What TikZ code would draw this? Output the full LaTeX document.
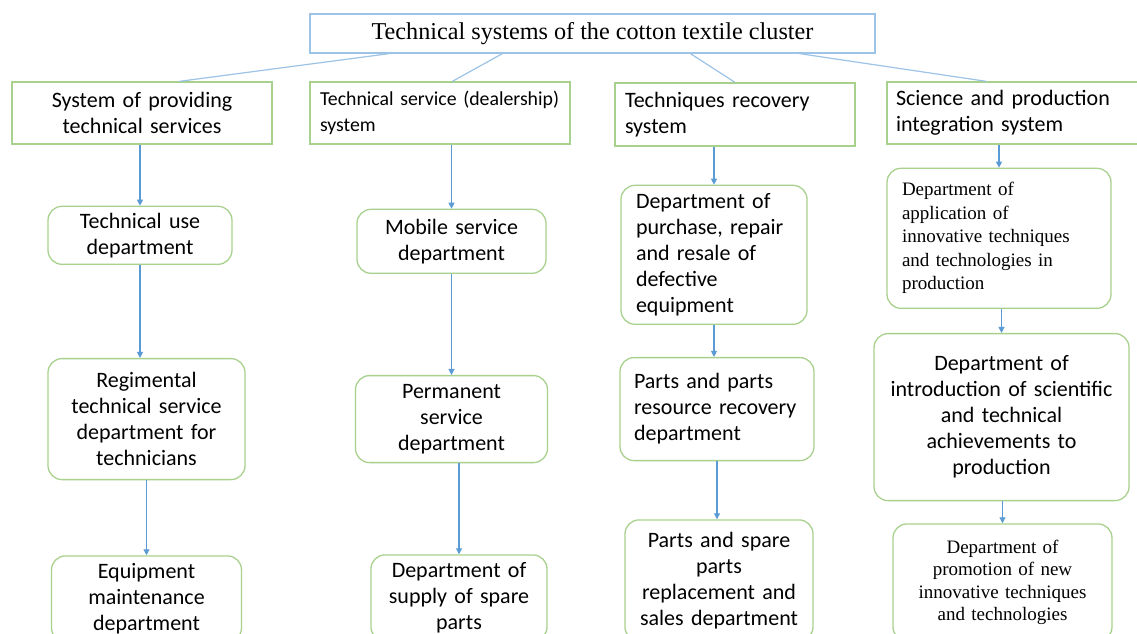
\documentclass[tikz,border=0pt]{standalone}
\usepackage{fontspec}
\setmainfont{Carlito}
\newfontfamily\timesfont{Liberation Serif}
\usepackage{xcolor}
\usetikzlibrary{arrows.meta}
\usetikzlibrary{positioning}

\definecolor{boxgreen}{HTML}{A9D18E}
\definecolor{linkblue}{HTML}{9DC3E6}
\definecolor{feedblue}{HTML}{5B9BD5}

\tikzset{
	system/.style={draw=boxgreen, line width=1.3pt, inner xsep=10pt, inner ysep=0pt,
		font=\fontsize{22}{26}\selectfont},
	department/.style={system, rounded corners=14pt},
	serifbox/.style={font=\timesfont\fontsize{19}{23.5}\selectfont},
	link/.style={draw=linkblue, line width=1.2pt},
	feed/.style={draw=feedblue, line width=1.1pt, -{Triangle[length=6pt,width=6pt]}}
}

\begin{document}
\begin{tikzpicture}[x=1pt, y=-1pt]
	\useasboundingbox (0,0) rectangle (1137,633);
	\fill[white] (0,0) rectangle (1137,633);
	\clip (0,0) rectangle (1137,633);

	\node[draw=linkblue, line width=1.2pt, minimum width=565pt, minimum height=39pt,
		font=\timesfont\fontsize{24.2}{28}\selectfont] (title) at (592.5,33.5)
		{Technical systems of the cotton textile cluster};

	\node[system, minimum width=260pt, minimum height=62pt, text width=240pt, align=center]
		(provSys) at (142,113) {System of providing\\technical services};
	\node[system, minimum width=260pt, minimum height=62pt, text width=240pt, align=left,
		font=\fontsize{19.8}{26}\selectfont]
		(dealSys) [right=36.7pt of provSys] {\mbox{Technical service (dealership)}\\system};
	\node[system, minimum width=240pt, minimum height=63pt, text width=220pt, align=left]
		(recovSys) [right=43.7pt of dealSys, yshift=-1.5pt] {Techniques recovery\\system};
	\node[system, minimum width=263pt, minimum height=62pt, text width=245pt, inner xsep=9pt, align=left]
		(sciSys) [right=30.7pt of recovSys, yshift=1.5pt] {Science and production\\integration system};

	\draw[link] ([xshift=80pt]title.south west) -- ([xshift=168pt]provSys.north west);
	\draw[link] ([xshift=193pt]title.south west) -- ([xshift=143pt]dealSys.north west);
	\draw[link] ([xshift=381pt]title.south west) -- (recovSys.north);
	\draw[link] ([xshift=490pt]title.south west) -- ([xshift=100pt]sciSys.north west);

	% first column
	\node[department, minimum width=184pt, minimum height=58pt, text width=164pt, align=center]
		(useDept) [below=61pt of provSys, xshift=-2pt] {Technical use\\department};
	\node[department, minimum width=197pt, minimum height=121pt, text width=177pt, align=center]
		(regDept) [below=93pt of useDept, xshift=6.5pt] {Regimental\\technical service\\department for\\technicians};
	\node[department, minimum width=190pt, minimum height=86pt, text width=170pt, align=center]
		(maintDept) [below=75pt of regDept] {Equipment\\maintenance\\department};
	\draw[feed] (provSys.south -| useDept) -- (useDept);
	\draw[feed] (useDept) -- (useDept.south |- regDept.north);
	\draw[feed] (regDept) -- (maintDept);

	% second column
	\node[department, minimum width=189pt, minimum height=64pt, text width=169pt, align=center]
		(mobileDept) [below=64pt of dealSys, xshift=11.5pt] {Mobile service\\department};
	\node[department, minimum width=192pt, minimum height=87pt, text width=172pt, align=center]
		(permDept) [below=101pt of mobileDept] {Permanent\\service\\department};
	\node[department, minimum width=176pt, minimum height=86pt, text width=156pt, align=center]
		(supplyDept) [below=91pt of permDept, xshift=7.5pt] {Department of\\supply of spare\\parts};
	\draw[feed] (dealSys.south -| mobileDept) -- (mobileDept);
	\draw[feed] (mobileDept) -- (permDept);
	\draw[feed] (permDept.south -| supplyDept) -- (supplyDept);

	% third column
	\node[department, minimum width=186pt, minimum height=139pt, text width=156pt, inner xsep=15pt, align=left]
		(purchDept) [below=38pt of recovSys, xshift=-21pt] {Department of\\purchase, repair\\and resale of\\defective\\equipment};
	\node[department, minimum width=194pt, minimum height=103pt, text width=166pt, inner xsep=14pt, align=left]
		(partsDept) [below=32pt of purchDept, xshift=3pt] {Parts and parts\\resource recovery\\department};
	\node[department, minimum width=188pt, minimum height=121pt, text width=168pt, align=center]
		(salesDept) [below=58pt of partsDept, xshift=2pt] {Parts and spare\\parts\\replacement and\\sales department};
	\draw[feed] (recovSys.south -| purchDept) -- (purchDept);
	\draw[feed] (purchDept) -- (purchDept.south |- partsDept.north);
	\draw[feed] (partsDept) -- (partsDept.south |- salesDept.north);

	% fourth column
	\node[department, serifbox, minimum width=224pt, minimum height=140pt, text width=194pt, inner xsep=15pt, align=left]
		(applyDept) [below=23pt of sciSys, xshift=-19.5pt] {Department of\\application of\\innovative techniques\\and technologies in\\production};
	\node[department, minimum width=255pt, minimum height=167pt, text width=235pt, align=center]
		(introDept) [below=24pt of applyDept, xshift=2.5pt] {Department of\\introduction of scientific\\and technical\\achievements to\\production};
	\node[department, serifbox, minimum width=219pt, minimum height=117pt, text width=199pt, align=center,
		font=\timesfont\fontsize{19}{22.5}\selectfont]
		(promoDept) [below=22pt of introDept, xshift=1pt] {Department of\\promotion of new\\innovative techniques\\and technologies};
	\draw[feed] (sciSys.south -| applyDept) -- (applyDept);
	\draw[feed] (applyDept.south -| introDept) -- (introDept);
	\draw[feed] (introDept.south -| promoDept) -- (promoDept);
\end{tikzpicture}
\end{document}
